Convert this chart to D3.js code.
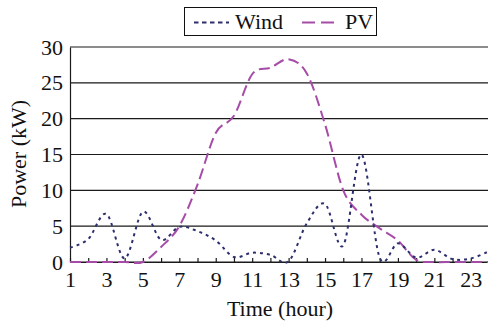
<!DOCTYPE html>
<html>
<head>
<meta charset="utf-8">
<script src="https://cdn.jsdelivr.net/npm/d3@7"></script>
<style>
  html, body { margin: 0; padding: 0; background: #fff; }
</style>
</head>
<body>
<svg id="chart" width="488" height="322" font-family="Liberation Serif"></svg>
<script>
// hours 1..24
const hours = d3.range(1, 25);
const wind = [2.0, 3.2, 6.7, 0.5, 7.0, 3.1, 4.9, 4.3, 3.0, 0.7, 1.3, 1.0,
              0.1, 5.4, 8.1, 2.3, 15.0, 0.6, 2.6, 0.6, 1.7, 0.4, 0.5, 1.5];
const pv = [0, 0, 0, 0, 0, 2.1, 5.0, 10.8, 18.0, 20.4, 26.2, 27.1,
            28.3, 26.3, 19.2, 10.0, 6.6, 4.7, 3.0, 0.3, 0, 0, 0, 0];
const yTicks = [0, 5, 10, 15, 20, 25, 30];
const xLabels = [1, 3, 5, 7, 9, 11, 13, 15, 17, 19, 21, 23];

const colors = {
    wind: '#2c2f6e',
    pv: '#a64ca8',
    grid: '#1a1a1a'
};
const font = 'Liberation Serif';
const fontSize = '22px';

const svg = d3.select('#chart');
const margin = {left: 70, top: 47, right: 489, bottom: 262};

const x = d3.scaleLinear().domain([1, 24]).range([margin.left, margin.right]);
const y = d3.scaleLinear().domain([0, 30]).range([margin.bottom, margin.top]);

// gridlines
svg.append('g')
    .selectAll('line')
    .data(yTicks)
    .enter().append('line')
    .attr('x1', margin.left)
    .attr('x2', 488)
    .attr('y1', d => y(d))
    .attr('y2', d => y(d))
    .attr('stroke', colors.grid)
    .attr('stroke-width', 1.2);

// y axis
const yAxis = svg.append('g')
    .attr('transform', `translate(${margin.left},0)`)
    .call(d3.axisLeft(y).tickValues(yTicks).tickSize(0).tickPadding(7));
yAxis.attr('font-family', font).attr('font-size', 22);
yAxis.select('.domain').attr('stroke', colors.grid).attr('stroke-width', 1.2);
yAxis.selectAll('text')
    .attr('fill', '#111')
    .style('font-family', font)
    .style('font-size', fontSize);

// x axis: ticks every hour, labels on odd hours
const xAxis = svg.append('g')
    .attr('transform', `translate(0,${margin.bottom})`)
    .call(d3.axisBottom(x).tickValues(hours).tickSizeInner(-4).tickSizeOuter(0).tickPadding(9)
        .tickFormat(d => xLabels.includes(d) ? d : ''));
xAxis.attr('font-family', font).attr('font-size', 22);
xAxis.select('.domain').attr('stroke', colors.grid).attr('stroke-width', 1.2);
xAxis.selectAll('line').attr('stroke', colors.grid).attr('stroke-width', 1.2);
xAxis.selectAll('text')
    .attr('fill', '#111')
    .style('font-family', font)
    .style('font-size', fontSize);

const line = d3.line()
    .x((d, i) => x(hours[i]))
    .y(d => y(d))
    .curve(d3.curveCatmullRom.alpha(0));

svg.append('path')
    .datum(pv)
    .attr('d', line)
    .attr('fill', 'none')
    .attr('stroke', colors.pv)
    .attr('stroke-width', 2)
    .attr('stroke-dasharray', '11,5');

svg.append('path')
    .datum(wind)
    .attr('d', line)
    .attr('fill', 'none')
    .attr('stroke', colors.wind)
    .attr('stroke-width', 2)
    .attr('stroke-dasharray', '3,4');

// axis titles
svg.append('text')
    .attr('x', 280)
    .attr('y', 316)
    .attr('text-anchor', 'middle')
    .attr('fill', '#111')
    .style('font-family', font)
    .style('font-size', fontSize)
    .text('Time (hour)');

svg.append('text')
    .attr('transform', 'translate(26,154) rotate(-90)')
    .attr('text-anchor', 'middle')
    .attr('fill', '#111')
    .style('font-family', font)
    .style('font-size', fontSize)
    .text('Power (kW)');

// legend
const legend = svg.append('g');
legend.append('rect')
    .attr('x', 184.5).attr('y', 7.5)
    .attr('width', 192).attr('height', 28)
    .attr('fill', '#fff')
    .attr('stroke', '#111')
    .attr('stroke-width', 1);

const legendItems = [
    {name: 'Wind', color: colors.wind, dash: '4.5,3.5', x0: 194, x1: 229, tx: 235},
    {name: 'PV', color: colors.pv, dash: '13,6', x0: 302, x1: 335, tx: 345}
];
legendItems.forEach(el => {
    legend.append('line')
        .attr('x1', el.x0).attr('x2', el.x1)
        .attr('y1', 22.5).attr('y2', 22.5)
        .attr('stroke', el.color)
        .attr('stroke-width', 2)
        .attr('stroke-dasharray', el.dash);
    legend.append('text')
        .attr('x', el.tx)
        .attr('y', 29)
        .attr('fill', '#111')
        .style('font-family', font)
        .style('font-size', fontSize)
        .text(el.name);
});
</script>
</body>
</html>
